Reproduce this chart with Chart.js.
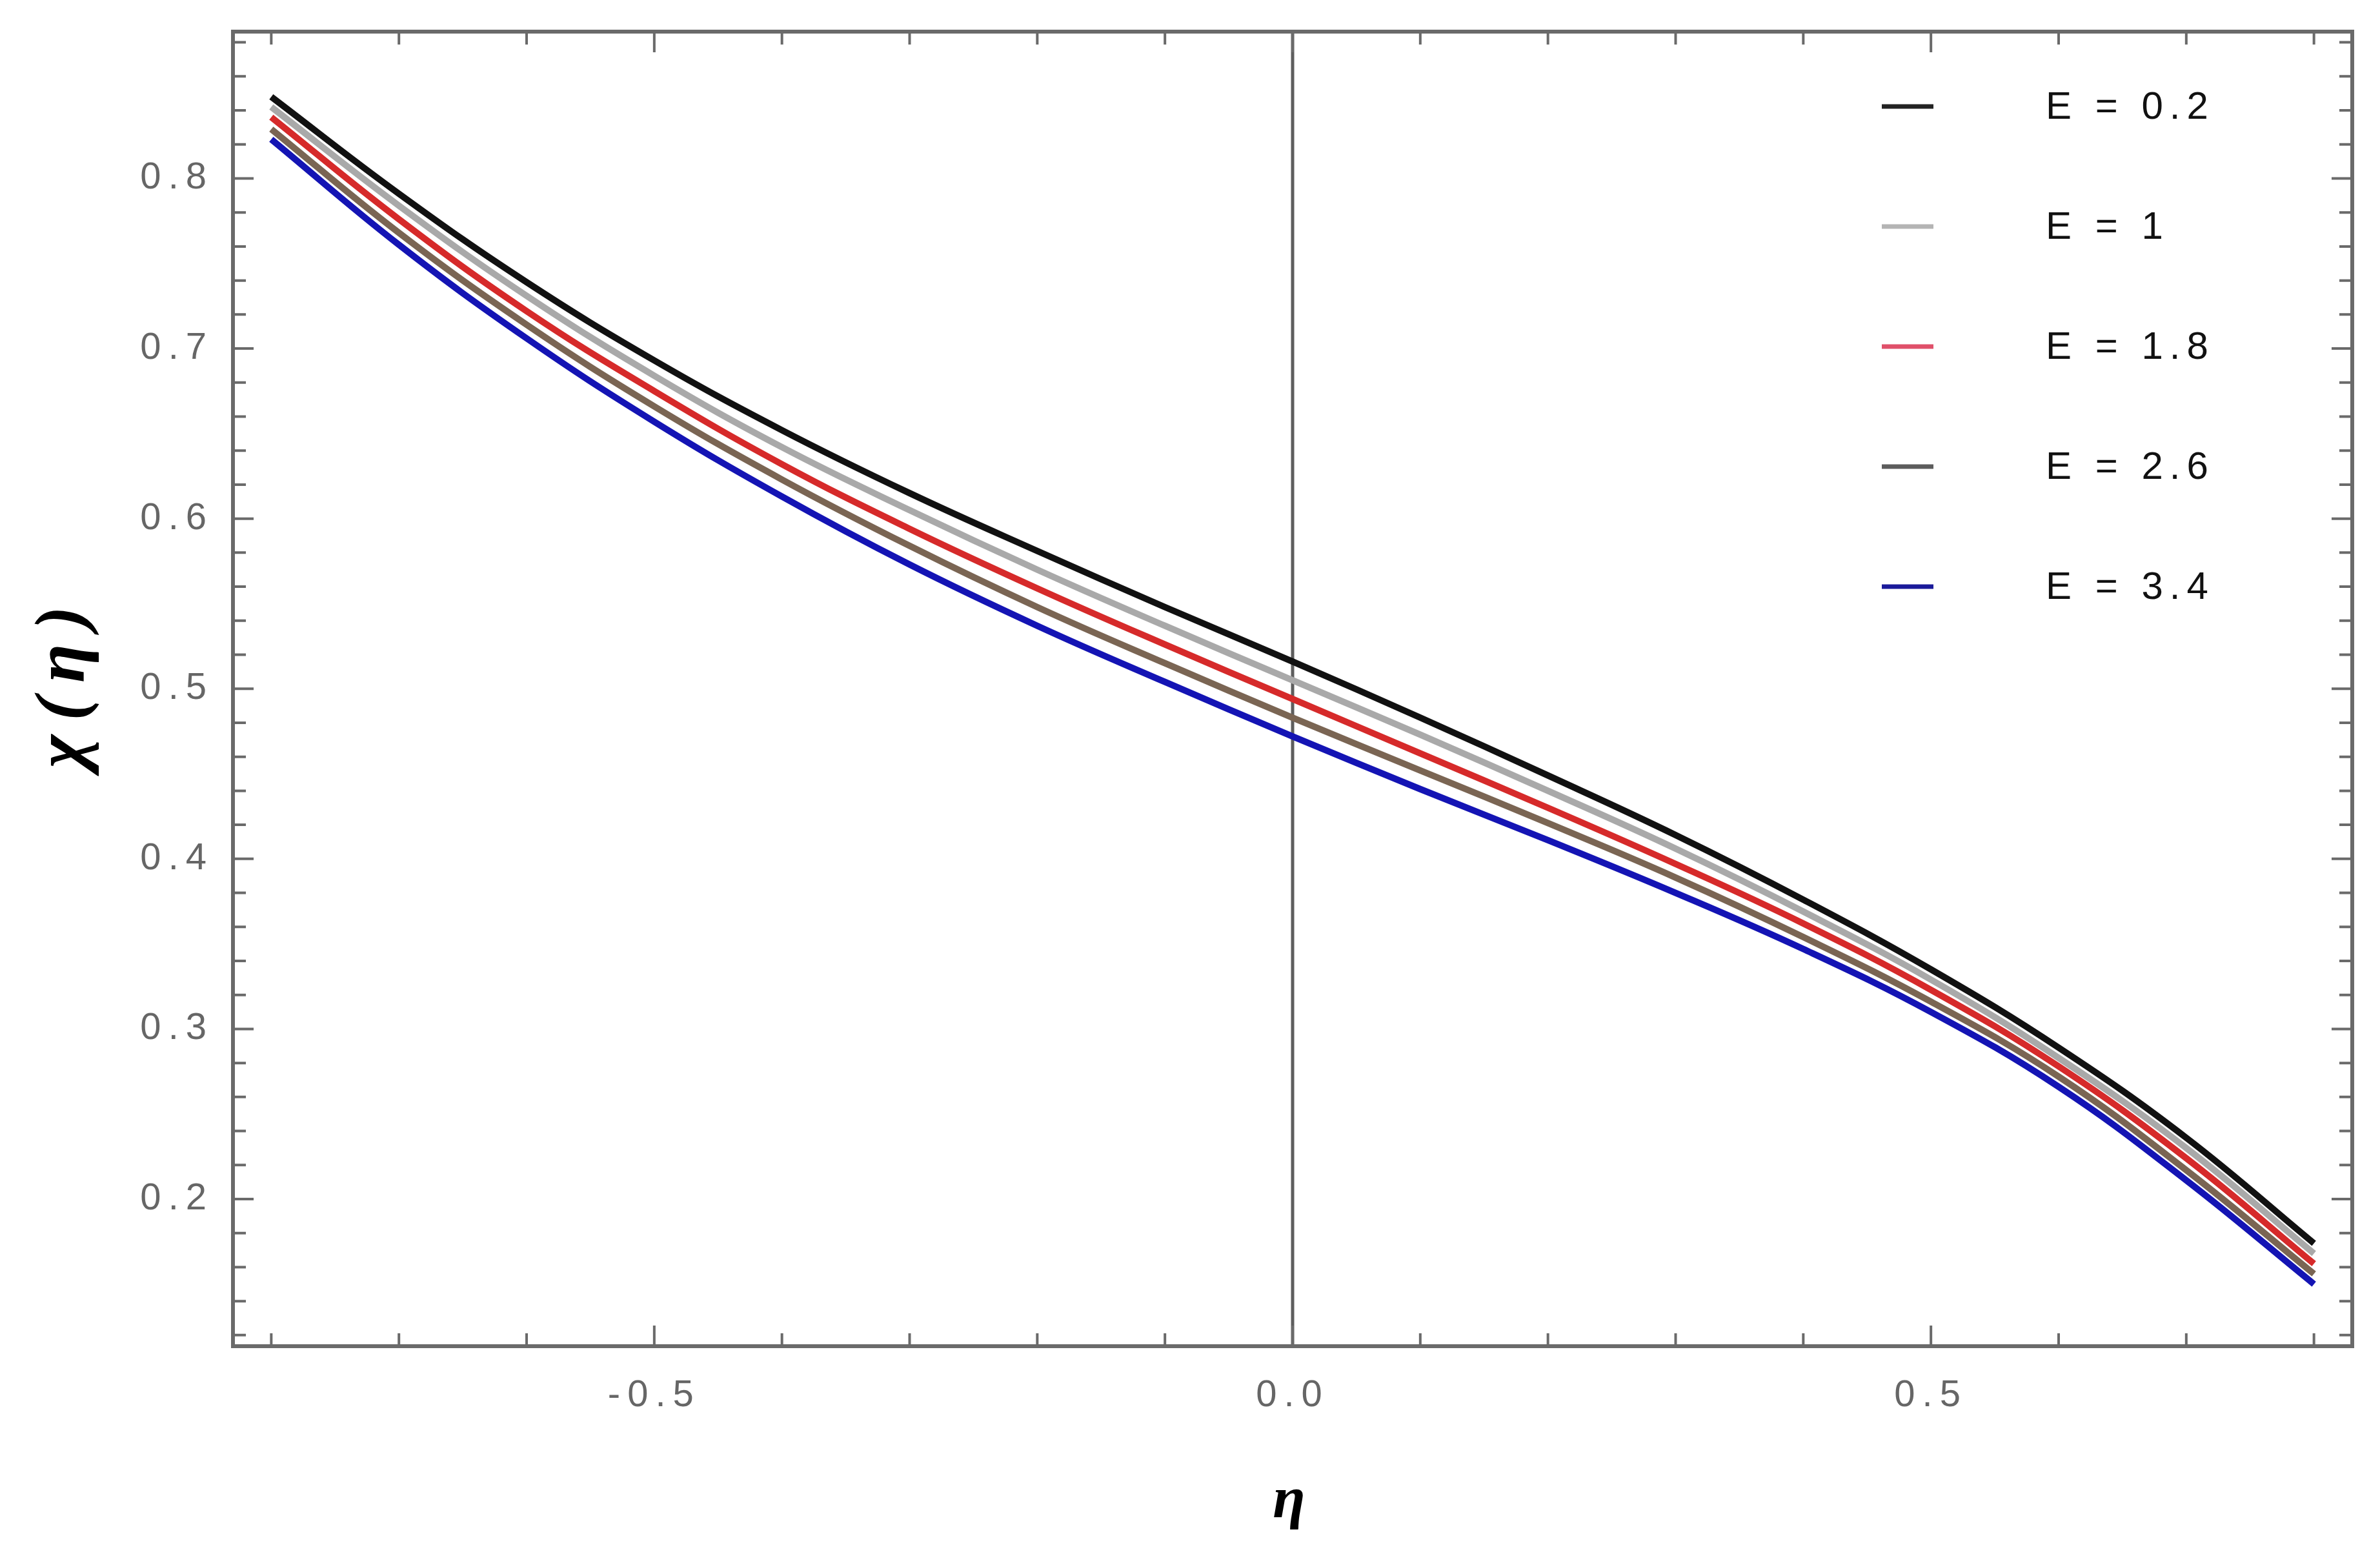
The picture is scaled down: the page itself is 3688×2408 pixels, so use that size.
<!DOCTYPE html>
<html>
<head>
<meta charset="utf-8">
<script src="https://cdn.jsdelivr.net/npm/chart.js@4.4.1/dist/chart.umd.min.js"></script>
<style>
  html, body { margin: 0; padding: 0; background: #ffffff; }
  #wrap { width: 3688px; height: 2408px; }
</style>
</head>
<body>
<div id="wrap"><canvas id="chiChart" width="3688" height="2408"></canvas></div>
<script>
const etaValues = [-0.8, -0.7, -0.6, -0.5, -0.4, -0.3, -0.2, -0.1, 0.0, 0.1, 0.2, 0.3, 0.4, 0.5, 0.6, 0.7, 0.8];

// chi(eta) for each E
const chiE02 = [0.848, 0.791, 0.739, 0.693, 0.652, 0.615, 0.581, 0.548, 0.516, 0.483, 0.449, 0.414, 0.376, 0.335, 0.289, 0.236, 0.174];
const chiE10 = [0.842, 0.784, 0.731, 0.684, 0.642, 0.605, 0.570, 0.537, 0.505, 0.473, 0.440, 0.406, 0.369, 0.329, 0.283, 0.230, 0.168];
const chiE18 = [0.836, 0.776, 0.722, 0.675, 0.632, 0.594, 0.559, 0.526, 0.494, 0.462, 0.430, 0.397, 0.362, 0.323, 0.278, 0.224, 0.162];
const chiE26 = [0.829, 0.768, 0.714, 0.666, 0.623, 0.584, 0.548, 0.515, 0.483, 0.452, 0.421, 0.389, 0.354, 0.316, 0.272, 0.217, 0.156];
const chiE34 = [0.823, 0.761, 0.706, 0.657, 0.613, 0.573, 0.537, 0.504, 0.472, 0.441, 0.411, 0.380, 0.347, 0.310, 0.266, 0.211, 0.150];

const seriesLabels = ['E = 0.2', 'E = 1', 'E = 1.8', 'E = 2.6', 'E = 3.4'];
const seriesColors = ['#111111', '#a9a9a9', '#d62a2a', '#7a6553', '#1414b4'];
const legendColors = ['#222222', '#b4b4b4', '#e0506a', '#5c5c5c', '#1a1a9a'];

const xTickLabels = [-0.5, 0.0, 0.5];
const yTickLabels = [0.2, 0.3, 0.4, 0.5, 0.6, 0.7, 0.8];

const allSeries = [chiE02, chiE10, chiE18, chiE26, chiE34];

const datasets = allSeries.map(function(series, i) {
    return {
        label: seriesLabels[i],
        data: etaValues.map(function(x, j) { return { x: x, y: series[j] }; }),
        borderColor: seriesColors[i],
        backgroundColor: seriesColors[i],
        borderWidth: 10,
        pointRadius: 0,
        tension: 0.4,
        fill: false,
        order: i
    };
});

const frameColor = '#6a6a6a';

// frame, inward ticks, eta = 0 line, legend and y title
const framePlugin = {
    id: 'framePlugin',
    beforeDraw: function(chart) {
        chart.ctx.letterSpacing = '11px';
    },
    beforeDatasetsDraw: function(chart) {
        const ctx = chart.ctx;
        const area = chart.chartArea;
        const x0 = chart.scales.x.getPixelForValue(0);
        ctx.save();
        ctx.strokeStyle = '#5e5e5e';
        ctx.lineWidth = 5;
        ctx.beginPath();
        ctx.moveTo(x0, area.top);
        ctx.lineTo(x0, area.bottom);
        ctx.stroke();
        ctx.restore();
    },
    afterDatasetsDraw: function(chart) {
        const ctx = chart.ctx;
        const a = chart.chartArea;
        const xs = chart.scales.x;
        const ys = chart.scales.y;
        ctx.save();
        ctx.strokeStyle = frameColor;
        ctx.lineWidth = 6;
        ctx.strokeRect(a.left, a.top, a.right - a.left, a.bottom - a.top);
        ctx.lineWidth = 4;
        ctx.beginPath();
        for (let k = -8; k <= 8; k++) {
            const v = k / 10;
            const len = (k % 5 === 0) ? 32 : 20;
            const px = xs.getPixelForValue(v);
            ctx.moveTo(px, a.bottom); ctx.lineTo(px, a.bottom - len);
            ctx.moveTo(px, a.top); ctx.lineTo(px, a.top + len);
        }
        for (let k = 6; k <= 44; k++) {
            const v = k / 50;
            const len = (k % 5 === 0) ? 32 : 20;
            const py = ys.getPixelForValue(v);
            ctx.moveTo(a.left, py); ctx.lineTo(a.left + len, py);
            ctx.moveTo(a.right, py); ctx.lineTo(a.right - len, py);
        }
        ctx.stroke();
        ctx.restore();
    },
    afterDraw: function(chart) {
        const ctx = chart.ctx;
        ctx.save();
        // legend
        ctx.font = '60px "Liberation Sans", Arial, sans-serif';
        ctx.letterSpacing = '10px';
        ctx.textBaseline = 'middle';
        ctx.textAlign = 'left';
        chart.data.datasets.forEach(function(ds, i) {
            const y = 165 + i * 186;
            ctx.strokeStyle = legendColors[i];
            ctx.lineWidth = 7;
            ctx.beginPath();
            ctx.moveTo(2916, y);
            ctx.lineTo(2996, y);
            ctx.stroke();
            ctx.fillStyle = '#111111';
            ctx.fillText(ds.label, 3170, y + 2);
        });
        // y axis title
        ctx.translate(102, (chart.chartArea.top + chart.chartArea.bottom) / 2);
        ctx.rotate(-Math.PI / 2);
        ctx.font = 'italic bold 110px "Liberation Serif", "Times New Roman", serif';
        ctx.letterSpacing = '22px';
        ctx.textAlign = 'center';
        ctx.fillStyle = '#000000';
        ctx.fillText('\u03c7(\u03b7)', 14, 0);
        ctx.restore();
    }
};

const chart = new Chart(document.getElementById('chiChart').getContext('2d'), {
    type: 'line',
    data: { datasets: datasets },
    options: {
        responsive: false,
        animation: false,
        devicePixelRatio: 1,
        layout: { padding: { left: 0, right: 43, top: 49, bottom: 0 } },
        plugins: {
            legend: { display: false },
            tooltip: { enabled: false }
        },
        scales: {
            x: {
                type: 'linear',
                min: -0.83,
                max: 0.83,
                grid: { display: false },
                border: { display: false },
                afterBuildTicks: function(s) {
                    s.ticks = xTickLabels.map(function(v) { return { value: v }; });
                },
                afterFit: function(s) {
                    s.height = 322;
                    s.paddingLeft = 0;
                    s.paddingRight = 0;
                },
                ticks: {
                    color: '#666666',
                    font: { size: 58, family: '"Liberation Sans", Arial, sans-serif' },
                    padding: 34,
                    maxRotation: 0,
                    callback: function(v) { return Number(v).toFixed(1); }
                },
                title: {
                    display: true,
                    text: '\u03b7',
                    color: '#000000',
                    font: { size: 92, family: '"Liberation Serif", "Times New Roman", serif', style: 'italic', weight: 'bold' },
                    padding: { top: 0, bottom: 26 }
                }
            },
            y: {
                type: 'linear',
                min: 0.1135,
                max: 0.8863,
                grid: { display: false },
                border: { display: false },
                afterBuildTicks: function(s) {
                    s.ticks = yTickLabels.map(function(v) { return { value: v }; });
                },
                afterFit: function(s) {
                    s.width = 361;
                    s.paddingTop = 0;
                    s.paddingBottom = 0;
                },
                ticks: {
                    color: '#666666',
                    font: { size: 58, family: '"Liberation Sans", Arial, sans-serif' },
                    padding: 22,
                    callback: function(v) { return Number(v).toFixed(1); }
                },
                title: { display: false }
            }
        }
    },
    plugins: [framePlugin]
});
</script>
</body>
</html>
